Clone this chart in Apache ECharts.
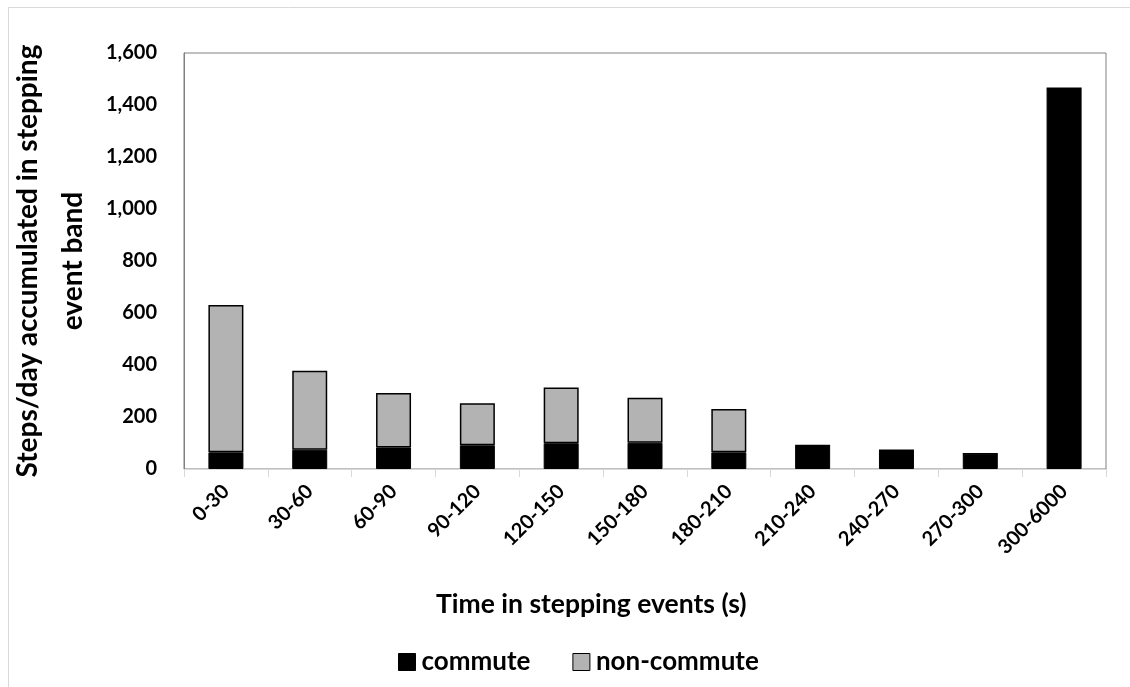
<!DOCTYPE html>
<html>
<head>
<meta charset="utf-8">
<script src="https://cdn.jsdelivr.net/npm/echarts@6/dist/echarts.min.js"></script>
<style>
html,body{margin:0;padding:0;background:#fff;}
#chart{width:1130px;height:687px;}
</style>
</head>
<body>
<div id="chart"></div>
<script>
const categories = ['0-30','30-60','60-90','90-120','120-150','150-180','180-210','210-240','240-270','270-300','300-6000'];
const commute = [64, 74, 83, 91, 99, 101, 64, 90, 72, 59, 1464];
const nonCommute = [567, 304, 209, 162, 214, 173, 167, 0, 0, 0, 0];
const yTicks = [0, 200, 400, 600, 800, 1000, 1200, 1400, 1600];

const FONT = 'Lato, "Open Sans", sans-serif';
const chart = echarts.init(document.getElementById('chart'));
chart.setOption({
  backgroundColor: '#fff',
  animation: false,
  grid: { left: 184, top: 53, right: 24, bottom: 218, show: true, borderColor: '#808080', borderWidth: 1, containLabel: false, outerBoundsMode: 'none' },
  legend: {
    left: 393, top: 644,
    itemWidth: 17, itemHeight: 17, itemGap: 42,
    icon: 'rect',
    textStyle: { fontFamily: FONT, fontWeight: 'bold', fontSize: 26, color: '#000', padding: [0,0,0,1] },
    data: [
      { name: 'commute', itemStyle: { color: '#000', borderColor: '#000', borderWidth: 1 } },
      { name: 'non-commute', itemStyle: { color: '#b3b3b3', borderColor: '#000', borderWidth: 1 } }
    ]
  },
  xAxis: {
    type: 'category',
    data: categories,
    axisLine: { lineStyle: { color: '#d9d9d9', width: 1 } },
    axisTick: { show: true, length: 8, lineStyle: { color: '#d9d9d9' } },
    axisLabel: { rotate: 45, margin: 19, fontFamily: FONT, fontWeight: 'bold', fontSize: 20, color: '#000' }
  },
  yAxis: {
    type: 'value',
    min: 0, max: 1600, interval: 200,
    name: 'Steps/day accumulated in stepping\nevent band',
    nameLocation: 'middle', nameRotate: 90, nameGap: 78,
    nameTextStyle: { fontFamily: FONT, fontWeight: 'bold', fontSize: 28, color: '#000', lineHeight: 45, align: 'center' },
    axisLine: { show: true, lineStyle: { color: '#808080' } },
    axisTick: { show: false },
    splitLine: { show: false },
    axisLabel: {
      margin: 27, fontFamily: FONT, fontWeight: 'bold', fontSize: 20, color: '#000',
      formatter: v => yTicks.includes(v) ? v.toLocaleString('en-US') : ''
    }
  },
  graphic: [
    { type: 'line', shape: { x1: 8, y1: 7.5, x2: 1130, y2: 7.5 }, style: { stroke: '#d9d9d9', lineWidth: 1 } },
    { type: 'line', shape: { x1: 8.5, y1: 7, x2: 8.5, y2: 687 }, style: { stroke: '#d9d9d9', lineWidth: 1 } },
    { type: 'text', left: 436, top: 591, style: { text: 'Time in stepping events (s)', font: 'bold 26.5px ' + FONT, fill: '#000' } }
  ],
  series: [
    {
      name: 'commute', type: 'bar', stack: 'total', data: commute, barWidth: 35,
      itemStyle: { color: '#000', borderColor: '#000', borderWidth: 1 }
    },
    {
      name: 'non-commute', type: 'bar', stack: 'total', data: nonCommute, barWidth: 35,
      itemStyle: { color: '#b3b3b3', borderColor: '#000', borderWidth: 1.5 }
    }
  ]
});
</script>
</body>
</html>
